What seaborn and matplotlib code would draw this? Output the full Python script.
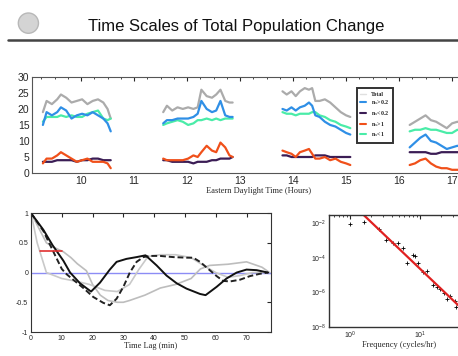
import matplotlib
matplotlib.use("Agg")
import matplotlib.pyplot as plt
from matplotlib.lines import Line2D
from matplotlib.patches import Ellipse
import matplotlib.ticker as mticker
import seaborn as sns
import pandas as pd

# ---- top panel: counts in four observing windows ----
seg_hours = [
    [9.28, 9.35, 9.45, 9.55, 9.62, 9.72, 9.82, 9.92, 10.02, 10.12, 10.22, 10.32, 10.42, 10.5, 10.56],
    [11.55, 11.62, 11.72, 11.82, 11.92, 12.02, 12.12, 12.2, 12.27, 12.37, 12.47, 12.55, 12.63, 12.72, 12.8, 12.86],
    [13.8, 13.88, 13.97, 14.05, 14.13, 14.22, 14.3, 14.36, 14.42, 14.5, 14.6, 14.7, 14.8, 14.9, 15.0, 15.08],
    [16.2, 16.3, 16.4, 16.5, 16.6, 16.7, 16.8, 16.9, 17.0, 17.1, 17.2, 17.3, 17.4, 17.5],
]
total_vals = [
    [19, 22.5, 21.5, 23, 24.5, 23.5, 22, 22.5, 23, 21.5, 22.5, 23, 22, 20, 17],
    [19, 21, 19.5, 20.5, 20, 20.5, 20, 20.5, 26, 24, 23.5, 24.5, 26, 22.5, 22, 22],
    [25.5, 24.5, 25.5, 24, 25.5, 26.5, 26, 26.5, 22.5, 22.5, 23, 22, 20.5, 19, 18, 17.5],
    [15, 16, 17, 18, 16.5, 16, 15, 14, 15.5, 16, 15.5, 16, 15.5, 16],
]
gt02_vals = [
    [15, 19, 18, 19, 20.5, 19.5, 17, 18, 18.5, 18, 19, 18, 17, 15.5, 13],
    [15.5, 16.5, 16.5, 17, 17, 17, 17.5, 18.5, 22.5, 20, 19, 19.5, 22.5, 18, 17.5, 17.5],
    [20, 19.5, 20.5, 19.5, 20.5, 21, 22, 21, 18, 17.5, 16, 15, 14.5, 13.5, 12.5, 12],
    [8, 9.5, 11, 12, 10, 9.5, 8.5, 7.5, 8, 8.5, 8, 8.5, 8, 8],
]
lt02_vals = [
    [3.5, 3.5, 3.5, 4, 4, 4, 4, 3.5, 4, 4, 4.5, 4.5, 4, 4, 4],
    [4, 4, 3.5, 3.5, 3.5, 3.5, 3, 3.5, 3.5, 3.5, 4, 4, 4.5, 4.5, 4.5, 5],
    [5.5, 5.5, 5, 5, 5, 5, 5, 5, 5.5, 5.5, 5.5, 5, 5, 5, 5, 5],
    [6.5, 6.5, 6.5, 6.5, 6, 6, 6.5, 6.5, 6.5, 6.5, 6.5, 6, 6.5, 6.5],
]
gt1_vals = [
    [3, 4.5, 4.5, 5.5, 6.5, 5.5, 4.5, 3.5, 4, 4.5, 3.5, 3.5, 3.5, 3, 1.5],
    [4.5, 4, 4, 4, 4, 4.5, 5.5, 5, 6.5, 8.5, 7, 6.5, 9.5, 8, 5.5, 5],
    [7, 6.5, 6, 5, 6.5, 7, 7.5, 6, 4.5, 4.5, 5, 4, 4.5, 3.5, 3, 2.5],
    [2.5, 3, 4, 4.5, 3, 2, 1.5, 1.5, 1, 1, 1, 1.5, 1, 1],
]
lt1_vals = [
    [16, 17.5, 17.5, 17.5, 18, 17.5, 18, 17.5, 17.5, 18.5, 19, 19.5, 17, 16.5, 17],
    [15, 15.5, 16, 16.5, 16, 15, 15.5, 16.5, 16.5, 17, 16.5, 17, 16.5, 17, 17, 17],
    [19, 18.5, 18.5, 18, 18.5, 18.5, 18.5, 19, 19, 18, 17.5, 16.5, 16, 15, 14.5, 14],
    [13, 13.5, 13.5, 14, 13.5, 13.5, 13, 12.5, 12.5, 13.5, 13, 13, 13.5, 13],
]
series_names = ["Total", "n$_s$>0.2", "n$_s$<0.2", "n$_s$>1", "n$_s$<1"]
series_vals = [total_vals, gt02_vals, lt02_vals, gt1_vals, lt1_vals]
series_colors = ["#ababab", "#2f8fe6", "#3b1d55", "#f0501a", "#4aeca8"]
draw_order = ["Total", "n$_s$<1", "n$_s$>0.2", "n$_s$<0.2", "n$_s$>1"]

# ---- bottom-left: autocorrelation ----
solid_lag = [0, 2, 4, 7, 10.5, 12.7, 15.9, 19.5, 22.4, 25.6, 27.8, 31, 34.3, 37.2, 40.8, 44, 47.3,
             50.5, 54.9, 56.7, 60.3, 63.5, 66.8, 70, 73.3, 77]
solid_acf = [1.0, 0.86, 0.72, 0.46, 0.2, 0.0, -0.18, -0.32, -0.17, 0.05, 0.18, 0.23, 0.26, 0.29,
             0.12, -0.05, -0.18, -0.27, -0.36, -0.38, -0.24, -0.1, 0.0, 0.05, 0.04, 0.0]
dash_lag = [0, 4, 6.7, 8.3, 10, 11.6, 13.7, 17, 20.2, 23.5, 25.6, 27.8, 30, 32.1, 34.3, 36.5, 38.6,
            41.9, 46.2, 50.5, 52.7, 54.9, 57.6, 60.3, 62.4, 64.6, 67.9, 71.1, 74.4, 77]
dash_acf = [1.0, 0.7, 0.41, 0.24, 0.06, -0.03, -0.12, -0.26, -0.41, -0.51, -0.55, -0.44, -0.24, 0.0,
            0.18, 0.26, 0.28, 0.28, 0.26, 0.25, 0.25, 0.18, 0.06, -0.06, -0.14, -0.15, -0.12, -0.06,
            -0.02, 0.0]
grayA_lag = [0, 2, 5, 10, 15, 19, 24, 28, 32, 35, 38, 42, 47, 52, 56, 60, 64, 68, 72, 77]
grayA_acf = [1.0, 0.5, 0.0, -0.1, -0.15, -0.2, -0.3, -0.32, -0.2, 0.05, 0.27, 0.3, 0.3, 0.25,
             0.12, 0.0, -0.08, -0.05, 0.0, 0.0]
grayB_lag = [0, 3, 5, 8, 10.5, 13, 15, 18, 20, 22.5, 25, 28, 30, 32, 37, 42, 47, 52, 55, 58, 64,
             70, 75, 77.5]
grayB_acf = [1.0, 0.7, 0.5, 0.41, 0.35, 0.25, 0.15, 0.03, -0.2, -0.38, -0.47, -0.5, -0.5, -0.47,
             -0.38, -0.26, -0.2, -0.1, 0.06, 0.12, 0.14, 0.18, 0.09, 0.0]
red_lag = [3, 10]
red_acf = [0.37, 0.37]

# ---- bottom-right: power spectrum ----
freq = [1.0, 1.58, 2.6, 3.3, 4.1, 4.9, 5.8, 6.5, 7.9, 8.5, 9.5, 11.2, 12.7, 15.5, 17.3, 19.3, 22,
        24, 27, 31.6, 33]
power = [9.3e-3, 1.26e-2, 4.6e-3, 1.1e-3, 7.8e-4, 7.1e-4, 4.0e-4, 5.4e-5, 1.5e-4, 1.3e-4, 4.9e-5,
         1.6e-5, 1.8e-5, 2.7e-6, 2.0e-6, 1.5e-6, 9e-7, 4e-7, 6.3e-7, 3.2e-7, 1.4e-7]
fit_freq = [1.5, 40]
fit_power = [3.7e-2, 1.1e-7]

rows = []
for name, vals in zip(series_names, series_vals):
    for k, (hrs, v) in enumerate(zip(seg_hours, vals)):
        for h, y in zip(hrs, v):
            rows.append({"hour": h, "count": y, "series": name, "seg": k})
top_df = pd.DataFrame(rows)

sns.set_style("white")
plt.rcParams["font.family"] = ["Liberation Sans", "DejaVu Sans"]
serif = ["Liberation Serif", "DejaVu Serif"]

fig = plt.figure(figsize=(4.58, 3.56), dpi=100)

# header
fig.text(0.515, 0.925, "Time Scales of Total Population Change", ha="center", va="center",
         fontsize=12, color="#111111")
fig.add_artist(Line2D([0.018, 1.0], [0.888, 0.888], color="#444444", lw=1.8))
fig.add_artist(Ellipse((0.062, 0.935), 0.044, 0.057, transform=fig.transFigure,
                       facecolor="#d4d4d4", edgecolor="#b8b8b8", lw=1))

# top panel
ax1 = fig.add_axes([0.0705, 0.514, 0.986, 0.27])
palette = dict(zip(series_names, series_colors))
for name in draw_order:
    sns.lineplot(data=top_df[top_df["series"] == name], x="hour", y="count", units="seg",
                 estimator=None, color=palette[name], lw=1.6, ax=ax1, legend=False)
ax1.set_xlim(9.08, 17.6)
ax1.set_ylim(0, 30)
ax1.set_xticks(range(10, 18))
ax1.set_yticks(range(0, 31, 5))
ax1.xaxis.set_minor_locator(mticker.MultipleLocator(0.25))
ax1.tick_params(direction="in", top=True, right=True, length=3, labelsize=7.5, pad=2)
ax1.tick_params(which="minor", direction="in", top=True, length=1.5)
ax1.set_xlabel("Eastern Daylight Time (Hours)", family=serif, fontsize=6, labelpad=1)
ax1.set_ylabel("")
for s in ax1.spines.values():
    s.set_color("#555555")
    s.set_linewidth(0.8)
handles = [Line2D([], [], color=palette[n], lw=1.5) for n in series_names]
handles[0] = Line2D([], [], color="#e0e0e0", lw=1.0)
leg = ax1.legend(handles, series_names, loc="upper left", bbox_to_anchor=(0.718, 0.885),
                 prop={"family": serif, "size": 4.3, "weight": "bold"}, handlelength=1.0,
                 handletextpad=0.8, labelspacing=0.3, borderpad=0.6, borderaxespad=0,
                 frameon=True, fancybox=False)
leg.get_frame().set_edgecolor("black")
leg.get_frame().set_linewidth(1.4)

# bottom-left panel
ax2 = fig.add_axes([0.0677, 0.0674, 0.523, 0.334])
ax2.axhline(0, color="#8c8cf5", lw=1.0)
sns.lineplot(x=grayB_lag, y=grayB_acf, color="#bdbdbd", lw=1.2, ax=ax2)
sns.lineplot(x=grayA_lag, y=grayA_acf, color="#c9c9c9", lw=1.2, ax=ax2)
sns.lineplot(x=dash_lag, y=dash_acf, color="#222222", lw=1.4, dashes=False, ax=ax2)
ax2.lines[-1].set_dashes((3, 1.5))
sns.lineplot(x=solid_lag, y=solid_acf, color="#111111", lw=1.4, ax=ax2)
sns.lineplot(x=red_lag, y=red_acf, color="#e03030", lw=1.2, ax=ax2)
ax2.set_xlim(0, 77.8)
ax2.set_ylim(-1, 1)
ax2.set_xticks(range(0, 71, 10))
ax2.set_yticks([-1, -0.5, 0, 0.5, 1])
ax2.set_yticklabels(["-1", "-0.5", "0", "0.5", "1"])
ax2.tick_params(direction="in", top=True, right=True, length=3, labelsize=5, pad=2)
ax2.set_xlabel("Time Lag (min)", family=serif, fontsize=6, labelpad=0)
for s in ax2.spines.values():
    s.set_color("#333333")
    s.set_linewidth(0.8)

# bottom-right panel
ax3 = fig.add_axes([0.718, 0.0815, 0.306, 0.315])
sns.lineplot(x=fit_freq, y=fit_power, color="#e02020", lw=1.6, ax=ax3)
sns.scatterplot(x=freq, y=power, color="black", marker="+", s=8, linewidth=0.6, ax=ax3)
ax3.set_xscale("log")
ax3.set_yscale("log")
ax3.set_xlim(0.5, 50)
ax3.set_ylim(1e-8, 10 ** -1.5)
ax3.set_yticks([1e-8, 1e-6, 1e-4, 1e-2])
ax3.set_xticks([1, 10])
ax3.xaxis.set_minor_locator(mticker.LogLocator(base=10, subs=range(2, 10)))
ax3.yaxis.set_minor_locator(mticker.LogLocator(base=10, subs=range(2, 10), numticks=20))
ax3.yaxis.set_minor_formatter(mticker.NullFormatter())
ax3.xaxis.set_minor_formatter(mticker.NullFormatter())
ax3.tick_params(direction="in", top=True, right=True, length=3, labelsize=5, pad=2)
ax3.tick_params(which="minor", direction="in", top=True, right=True, length=1.5)
ax3.set_xlabel("Frequency (cycles/hr)", family=serif, fontsize=6, labelpad=0)
for s in ax3.spines.values():
    s.set_color("#333333")
    s.set_linewidth(1.0)

fig.savefig("out.png", dpi=100)
